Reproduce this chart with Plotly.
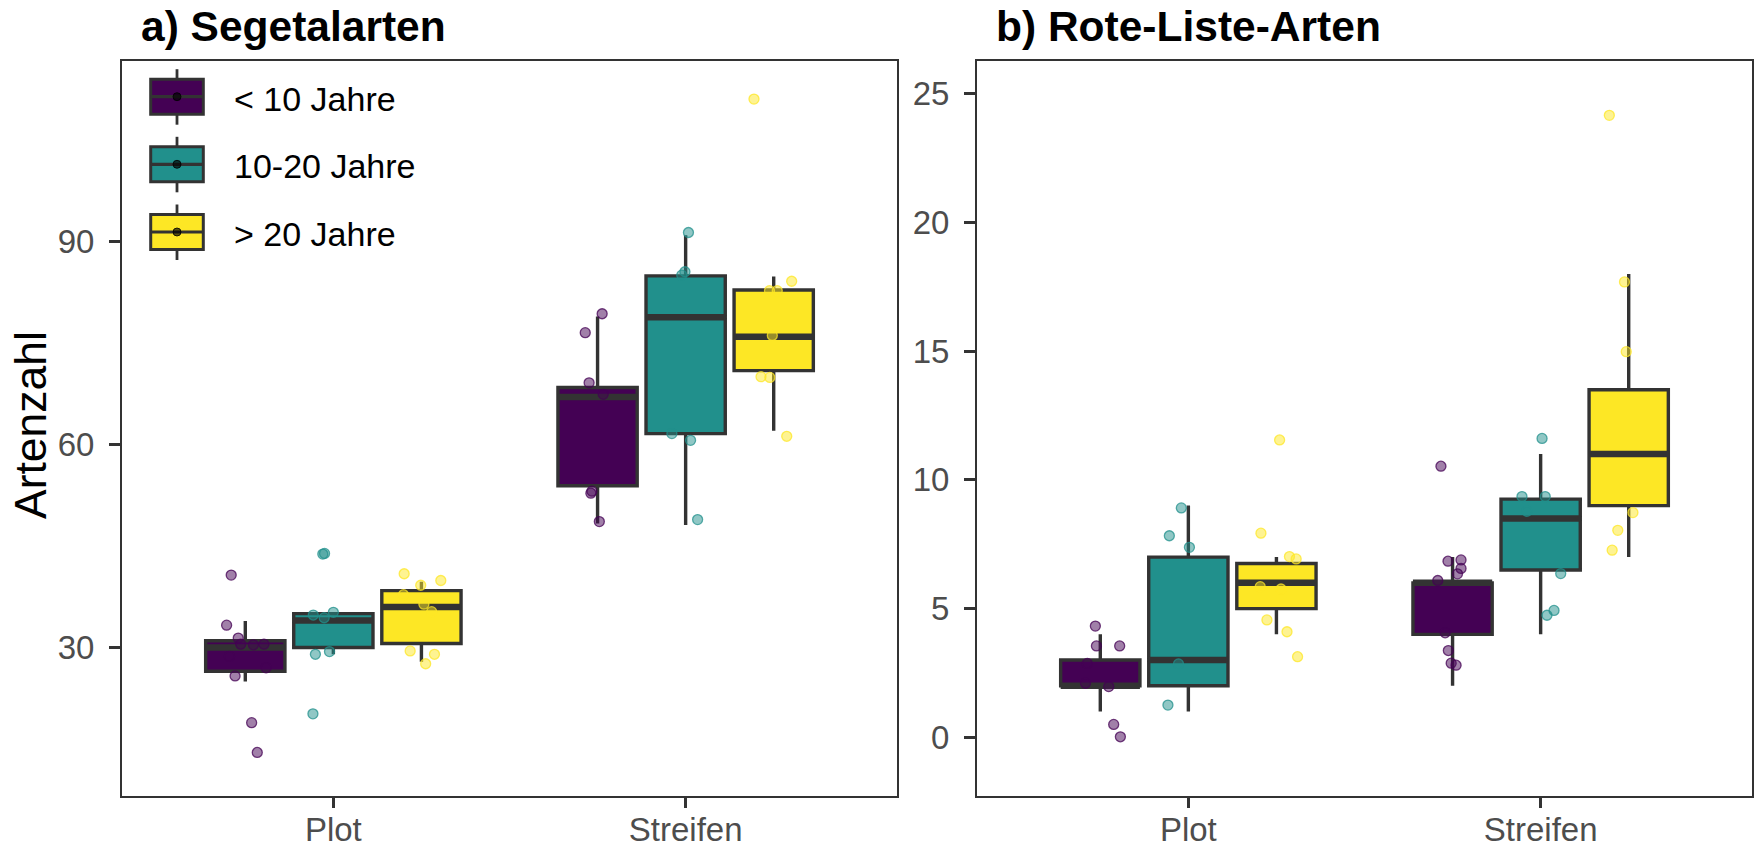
import plotly.graph_objects as go

W, H = 1758, 848

# ---------------- data ----------------
groups = ["< 10 Jahre", "10-20 Jahre", "> 20 Jahre"]
colors = ["#440154", "#21908C", "#FDE725"]
rgb = [(68, 1, 84), (33, 144, 140), (253, 231, 37)]
categories = ["Plot", "Streifen"]
panel_titles = ["a) Segetalarten", "b) Rote-Liste-Arten"]
y_title = "Artenzahl"
seg_ticks = [30, 60, 90]
rl_ticks = [0, 5, 10, 15, 20, 25]

# box statistics, indexed [group][category]
seg_whisker_low = [[25.0, 48.3], [29.0, 48.1], [27.9, 62.0]]
seg_q1 = [[26.5, 53.9], [30.0, 61.6], [30.6, 70.9]]
seg_median = [[30.0, 67.0], [34.0, 78.8], [36.0, 75.9]]
seg_q3 = [[31.0, 68.4], [35.0, 84.9], [38.4, 82.8]]
seg_whisker_high = [[33.9, 78.9], [35.0, 90.9], [39.7, 84.8]]

rl_whisker_low = [[1, 2], [1, 4], [4, 7]]
rl_q1 = [[2, 4], [2, 6.5], [5, 9]]
rl_median = [[2, 6], [3, 8.5], [6, 11]]
rl_q3 = [[3, 6], [7, 9.25], [6.75, 13.5]]
rl_whisker_high = [[4, 7], [9, 11], [7, 18]]

# jittered observations, indexed [group]
seg_plot_vals = [[40.7, 33.3, 31.4, 30.5, 30.4, 30.5, 25.8, 18.9, 14.5, 28.7, 27.0],
                 [43.8, 43.9, 34.8, 34.4, 35.2, 29.0, 29.4, 20.2],
                 [40.9, 39.2, 39.9, 37.8, 36.4, 35.3, 29.5, 29.0, 27.6]]
seg_plot_jit = [[-0.040, -0.053, -0.020, -0.013, 0.023, 0.053, -0.029, 0.018, 0.034, -0.045, 0.059],
                [-0.030, -0.025, -0.057, -0.026, 0.000, -0.051, -0.011, -0.058],
                [-0.049, -0.002, 0.055, -0.051, 0.007, 0.029, -0.032, 0.037, 0.012]]
seg_str_vals = [[79.3, 76.5, 69.1, 67.4, 53.1, 52.8, 48.6],
                [91.3, 85.5, 85.0, 61.6, 60.6, 48.9],
                [111.0, 84.1, 82.7, 82.7, 76.1, 70.0, 69.9, 61.2]]
seg_str_jit = [[0.013, -0.035, -0.024, 0.016, -0.016, -0.019, 0.005],
               [0.008, -0.002, -0.011, -0.039, 0.014, 0.034],
               [-0.056, 0.051, -0.012, 0.010, -0.004, -0.036, -0.011, 0.037]]

rl_plot_vals = [[4.32, 3.55, 3.55, 2.10, 1.97, 0.50, 0.02, 2.87],
                [8.91, 7.83, 7.38, 2.85, 1.25],
                [11.55, 7.93, 7.02, 6.93, 5.85, 5.76, 4.56, 4.10, 3.13]]
rl_plot_jit = [[-0.014, -0.011, 0.055, -0.042, 0.024, 0.038, 0.057, -0.037],
               [-0.020, -0.054, 0.003, -0.028, -0.058],
               [0.009, -0.044, 0.037, 0.056, -0.046, 0.013, -0.027, 0.030, 0.060]]
rl_str_vals = [[10.53, 6.84, 6.89, 6.56, 6.35, 6.09, 4.06, 3.37, 2.88, 2.80],
               [11.61, 9.35, 9.35, 8.78, 6.36, 4.93, 4.74],
               [24.16, 17.69, 14.98, 8.73, 8.04, 7.27]]
rl_str_jit = [[-0.033, -0.013, 0.024, 0.024, 0.014, -0.042, -0.021, -0.012, -0.004, 0.010],
              [0.004, -0.053, 0.013, -0.039, 0.057, 0.038, 0.018],
              [-0.055, -0.012, -0.007, 0.012, -0.031, -0.047]]

# ---------------- style ----------------
dodge = [-0.25, 0.0, 0.25]
box_w = 0.225
edge = "#333333"
FONT = "Liberation Sans, Arial, sans-serif"

fig = go.Figure()

panels = [
    dict(xa="x", ya="y", lo=seg_whisker_low, q1=seg_q1, med=seg_median, q3=seg_q3,
         hi=seg_whisker_high, vals=[seg_plot_vals, seg_str_vals], jit=[seg_plot_jit, seg_str_jit]),
    dict(xa="x2", ya="y2", lo=rl_whisker_low, q1=rl_q1, med=rl_median, q3=rl_q3,
         hi=rl_whisker_high, vals=[rl_plot_vals, rl_str_vals], jit=[rl_plot_jit, rl_str_jit]),
]

for p in panels:
    # boxes
    for g in range(3):
        pos = [c + dodge[g] for c in range(len(categories))]
        fig.add_trace(go.Box(
            x=pos, q1=p["q1"][g], median=p["med"][g], q3=p["q3"][g],
            lowerfence=p["lo"][g], upperfence=p["hi"][g],
            width=box_w, fillcolor=colors[g], line=dict(color=edge, width=3.4),
            whiskerwidth=0, boxpoints=False, xaxis=p["xa"], yaxis=p["ya"],
            showlegend=False, hoverinfo="skip"))
    # thick median bars
    for g in range(3):
        mx, my = [], []
        for c in range(len(categories)):
            pos = c + dodge[g]
            mx += [pos - box_w / 2, pos + box_w / 2, None]
            my += [p["med"][g][c], p["med"][g][c], None]
        fig.add_trace(go.Scatter(x=mx, y=my, mode="lines", line=dict(color=edge, width=6.5),
                                 xaxis=p["xa"], yaxis=p["ya"], showlegend=False, hoverinfo="skip"))
    # jittered points
    for g in range(3):
        px, py = [], []
        for c in range(len(categories)):
            for v, j in zip(p["vals"][c][g], p["jit"][c][g]):
                px.append(c + dodge[g] + j)
                py.append(v)
        r, gg, b = rgb[g]
        fig.add_trace(go.Scatter(
            x=px, y=py, mode="markers",
            marker=dict(size=10, color=f"rgba({r},{gg},{b},0.5)",
                        line=dict(color=f"rgba({r},{gg},{b},0.75)", width=1.3)),
            xaxis=p["xa"], yaxis=p["ya"], showlegend=False, hoverinfo="skip"))

# ---------------- axes ----------------
def xpx(x):
    return x / W

def ypx(y):
    return 1 - y / H

ydom = [ypx(796), ypx(61)]
common_x = dict(range=[-0.6, 1.6], tickvals=list(range(len(categories))), ticktext=categories,
                showgrid=False, zeroline=False, showline=True, mirror=True, linecolor=edge,
                linewidth=2, ticks="outside", ticklen=10, tickwidth=2.5, tickcolor=edge,
                tickfont=dict(family=FONT, size=33, color="#4D4D4D"), ticklabelstandoff=-7,
                automargin=False)
common_y = dict(showgrid=False, zeroline=False, showline=True, mirror=True, linecolor=edge,
                linewidth=2, ticks="outside", ticklen=11, tickwidth=2.5, tickcolor=edge,
                tickfont=dict(family=FONT, size=33, color="#4D4D4D"), ticklabelstandoff=8,
                automargin=False)

fig.update_layout(
    width=W, height=H, margin=dict(l=0, r=0, t=0, b=0, autoexpand=False),
    paper_bgcolor="white", plot_bgcolor="white", showlegend=False,
    xaxis=dict(domain=[xpx(122), xpx(897)], anchor="y", **common_x),
    yaxis=dict(domain=ydom, anchor="x", range=[8.07, 116.63], tickvals=seg_ticks, **common_y),
    xaxis2=dict(domain=[xpx(977), xpx(1752)], anchor="y2", **common_x),
    yaxis2=dict(domain=ydom, anchor="x2", range=[-2.28, 26.27], tickvals=rl_ticks, **common_y),
)

# ---------------- titles ----------------
ann = []
ann.append(dict(text="<b>" + panel_titles[0] + "</b>", x=xpx(139), y=ypx(27), xref="paper", yref="paper",
                xanchor="left", yanchor="middle", showarrow=False,
                font=dict(family=FONT, size=42.5, color="black")))
ann.append(dict(text="<b>" + panel_titles[1] + "</b>", x=xpx(994), y=ypx(27), xref="paper", yref="paper",
                xanchor="left", yanchor="middle", showarrow=False,
                font=dict(family=FONT, size=42.5, color="black")))
ann.append(dict(text=y_title, x=xpx(31), y=ypx(425), xref="paper", yref="paper",
                xanchor="center", yanchor="middle", textangle=-90, showarrow=False,
                font=dict(family=FONT, size=44.5, color="black")))

# ---------------- legend (drawn inside panel a) ----------------
shapes = []
key_cy = [96.7, 164.3, 232.0]
kx0, kx1, kcx = 150.7, 203.3, 177.0
for g in range(3):
    cy = key_cy[g]
    shapes.append(dict(type="line", xref="paper", yref="paper", x0=xpx(kcx), x1=xpx(kcx),
                       y0=ypx(cy - 27.5), y1=ypx(cy + 28), line=dict(color=edge, width=2.8), layer="above"))
    shapes.append(dict(type="rect", xref="paper", yref="paper", x0=xpx(kx0), x1=xpx(kx1),
                       y0=ypx(cy + 17.5), y1=ypx(cy - 17.5), fillcolor=colors[g],
                       line=dict(color=edge, width=3), layer="above"))
    shapes.append(dict(type="line", xref="paper", yref="paper", x0=xpx(kx0), x1=xpx(kx1),
                       y0=ypx(cy), y1=ypx(cy), line=dict(color=edge, width=3.2), layer="above"))
    shapes.append(dict(type="circle", xref="paper", yref="paper", x0=xpx(kcx - 4), x1=xpx(kcx + 4),
                       y0=ypx(cy + 4), y1=ypx(cy - 4), fillcolor="rgba(0,0,0,0.65)",
                       line=dict(color="rgba(0,0,0,0.8)", width=1), layer="above"))
    ann.append(dict(text=groups[g], x=xpx(232), y=ypx(cy + 2), xref="paper", yref="paper",
                    xanchor="left", yanchor="middle", showarrow=False,
                    font=dict(family=FONT, size=34, color="black")))

fig.update_layout(annotations=ann, shapes=shapes)
fig.write_html("out.html")
